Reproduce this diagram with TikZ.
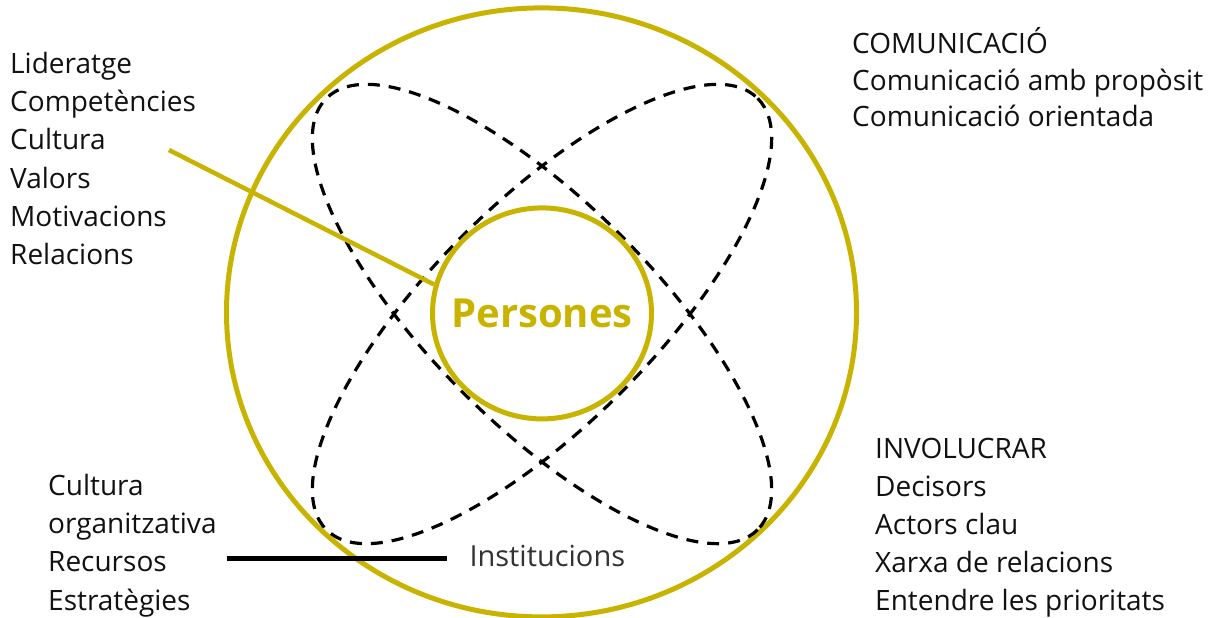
\documentclass[tikz,border=0pt]{standalone}
\usepackage{fontspec}
\setmainfont{Open Sans}
\usetikzlibrary{shapes.geometric}
\definecolor{gold}{RGB}{200,180,0}
\definecolor{ink}{RGB}{17,17,17}
\definecolor{greyink}{RGB}{51,51,51}
\tikzset{
  lbl/.style={inner sep=0pt, anchor=base west, text=ink, font=\fontsize{28}{34}\selectfont},
  ring/.style={draw=gold, line width=5pt},
  orbit/.style={draw=black, line width=3.2pt, dash pattern=on 12pt off 9pt},
}
\begin{document}
\begin{tikzpicture}[x=1pt,y=-1pt]
\useasboundingbox (0,0) rectangle (1212,618);
\fill[white] (0,0) rectangle (1212,618);
% outer circle
\draw[ring] (541.5,312.4) ellipse [x radius=315, y radius=304.5];
% dashed orbits
\coordinate (c) at (542,314);
\draw[orbit, rotate around={45:(c)}] (c) ellipse [x radius=305, y radius=111.4];
\draw[orbit, rotate around={-45:(c)}] (c) ellipse [x radius=305, y radius=111.4];
% inner circle
\node[ellipse, ring, fill=white, minimum width=219pt, minimum height=211pt, inner sep=0pt] (pers) at (542,313.4) {};
\node[inner sep=0pt, text=gold, font=\fontsize{40}{40}\selectfont\bfseries] (perst) at (pers.center) {Persones};
% left top list
\foreach \t [count=\i] in {Lideratge,Competències,Cultura,Valors,Motivacions,Relacions}
  \node[lbl] (lt\i) at ({10},{73.3+38.3*(\i-1)}) {\t};
\coordinate (ys) at (169,150);
\draw[draw=gold, line width=4.5pt] (ys) -- (pers.165);
% right top list
\foreach \t [count=\i] in {COMUNICACIÓ,Comunicació amb propòsit,Comunicació orientada}
  \node[lbl] (rt\i) at ({852},{53.3+36.7*(\i-1)}) {\t};
% right bottom list
\foreach \t [count=\i] in {INVOLUCRAR,Decisors,Actors clau,Xarxa de relacions,Entendre les prioritats}
  \node[lbl] (rb\i) at ({875},{458.3+38.1*(\i-1)}) {\t};
% left bottom list
\foreach \t [count=\i] in {Cultura,organitzativa,Recursos,Estratègies}
  \node[lbl] (lb\i) at ({48},{495.3+38.3*(\i-1)}) {\t};
% Institucions
\node[lbl, text=greyink, font=\fontsize{29}{34}\selectfont] (inst) at (469.3,566.7) {Institucions};
\coordinate (bl) at (226.7,558.3);
\draw[line width=4.5pt, black] (bl) -- ([xshift=-22pt]bl -| inst.west);
\end{tikzpicture}
\end{document}
